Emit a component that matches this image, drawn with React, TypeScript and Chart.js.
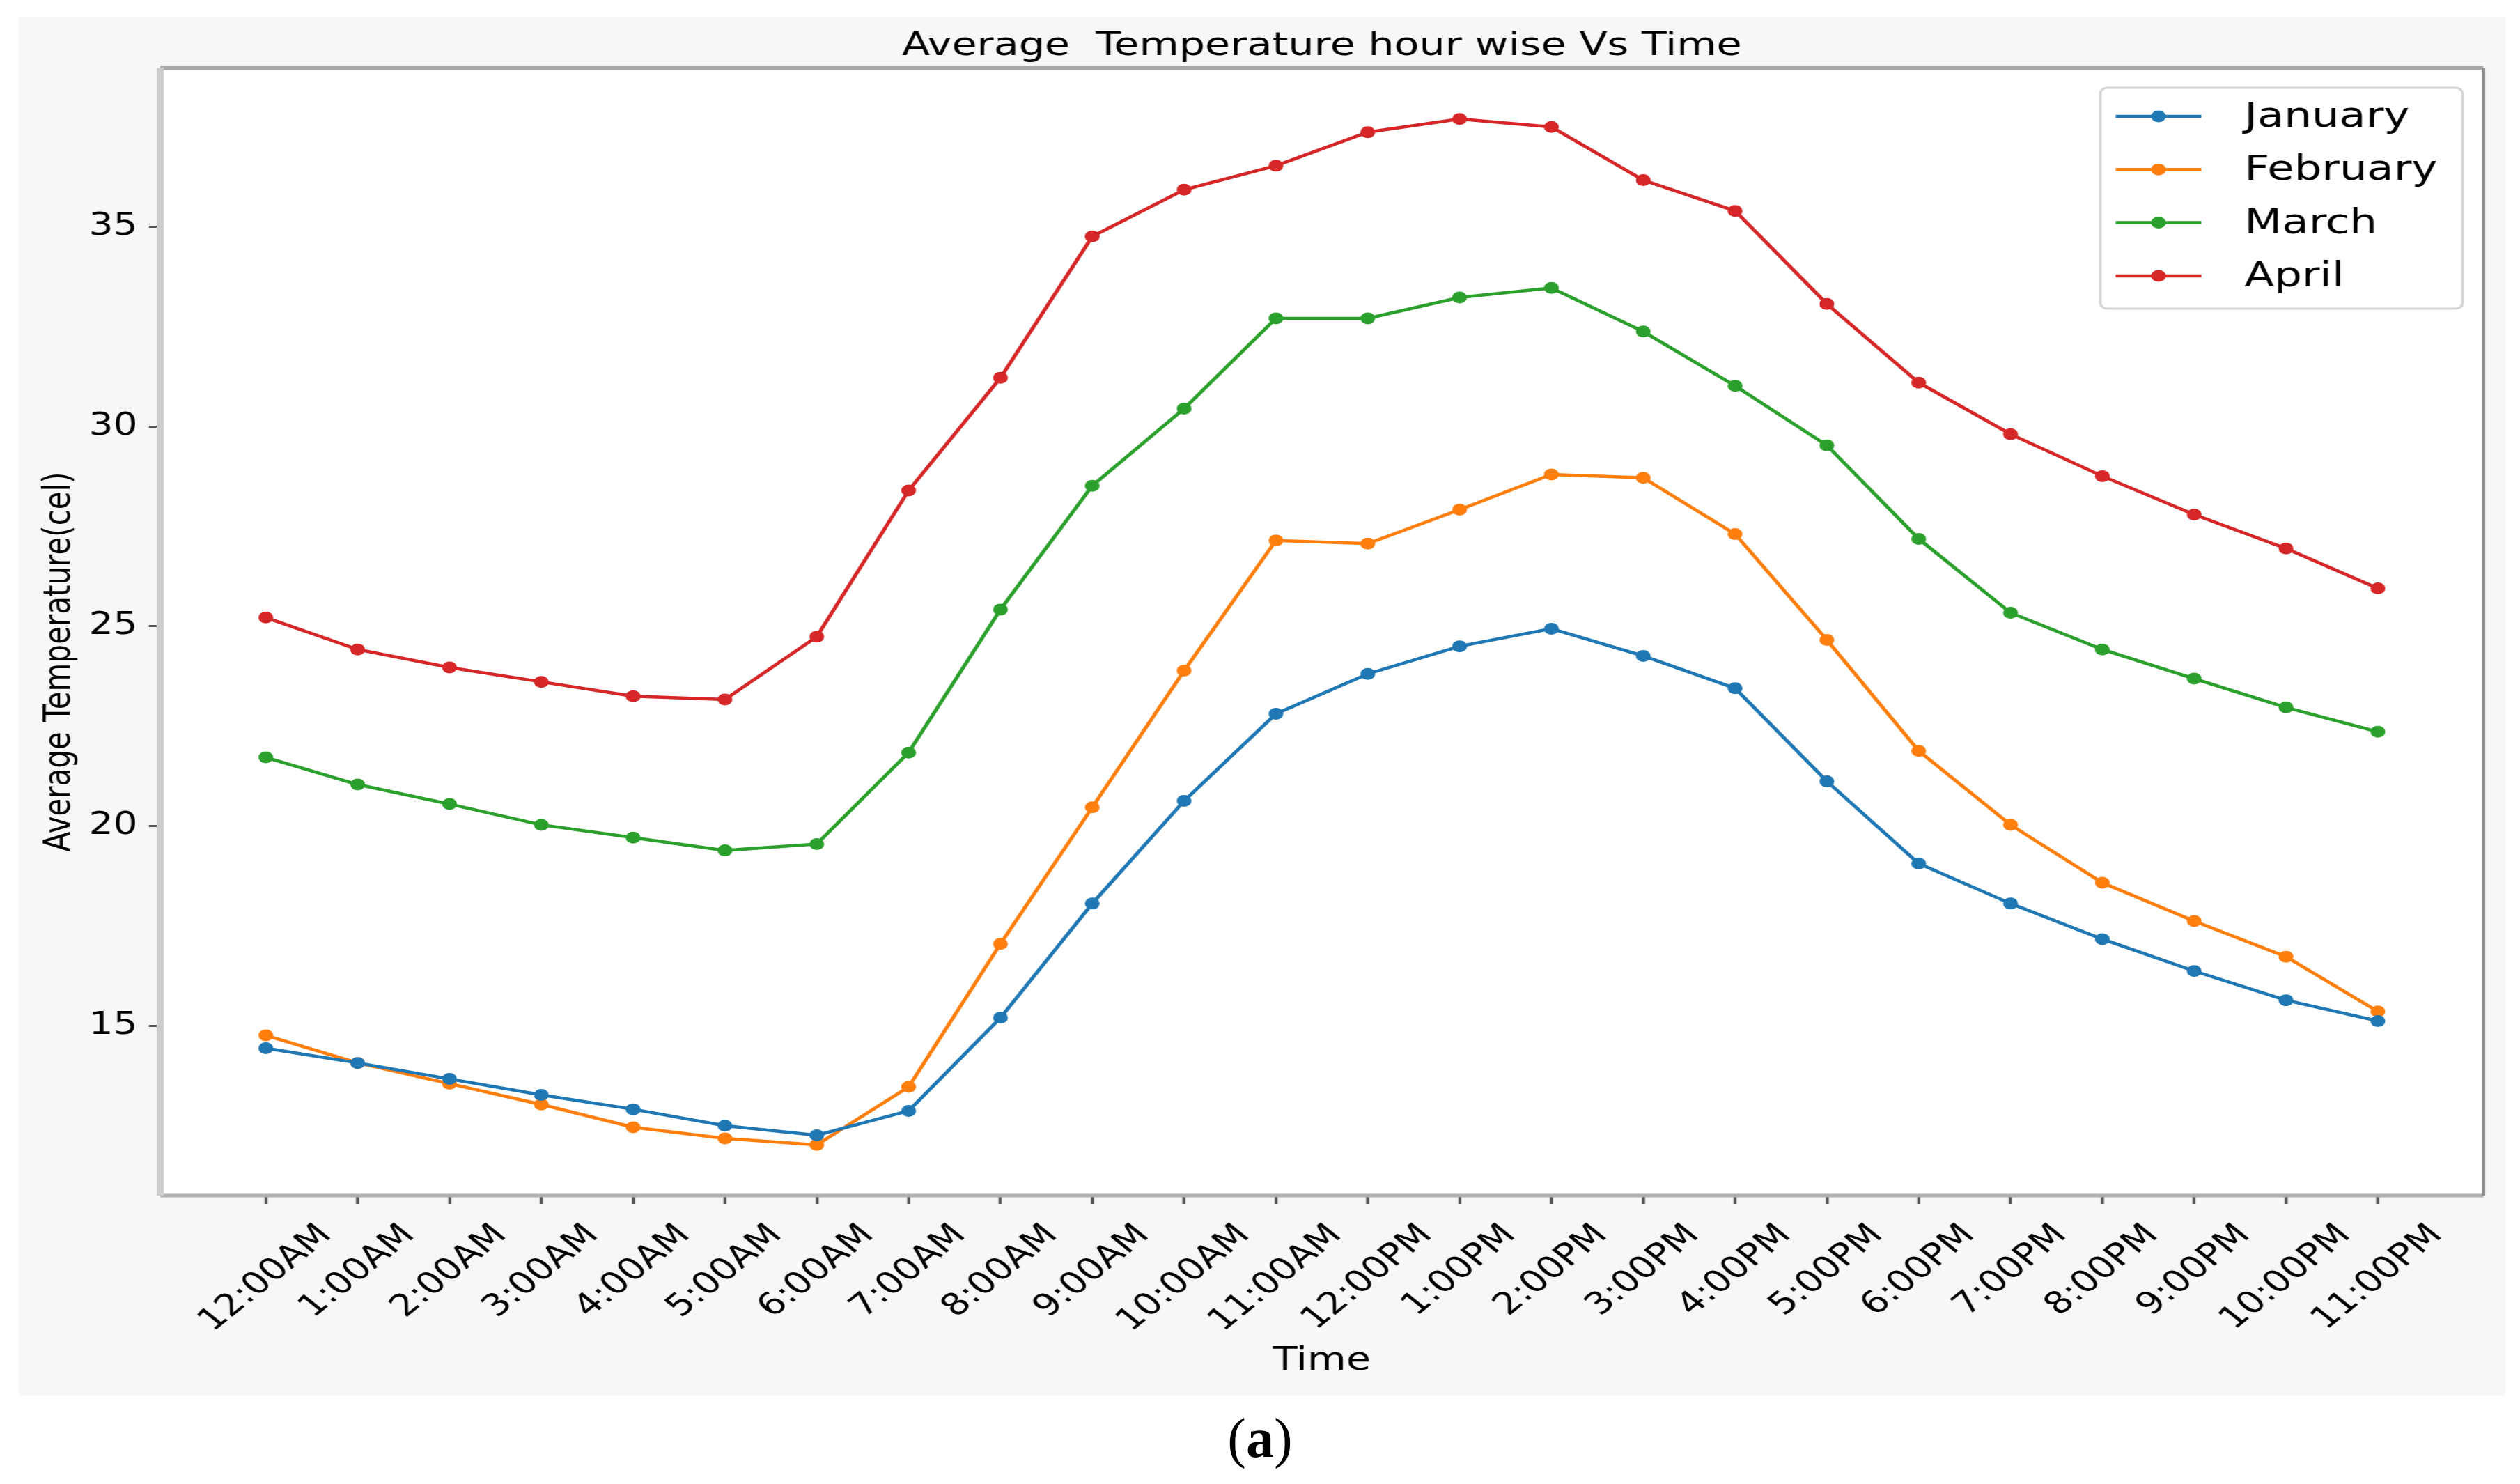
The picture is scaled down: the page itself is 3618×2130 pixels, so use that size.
import React, { useEffect, useRef } from 'react';
import { Chart, registerables } from 'chart.js';

Chart.register(...registerables);

// ---------- data ----------
const hourLabels = [
  '12:00AM', '1:00AM', '2:00AM', '3:00AM', '4:00AM', '5:00AM', '6:00AM', '7:00AM',
  '8:00AM', '9:00AM', '10:00AM', '11:00AM', '12:00PM', '1:00PM', '2:00PM', '3:00PM',
  '4:00PM', '5:00PM', '6:00PM', '7:00PM', '8:00PM', '9:00PM', '10:00PM', '11:00PM',
];
const january = [14.44, 14.07, 13.67, 13.27, 12.91, 12.5, 12.26, 12.87, 15.2, 18.06, 20.63, 22.81, 23.81, 24.5, 24.94, 24.26, 23.45, 21.12, 19.06, 18.06, 17.17, 16.37, 15.64, 15.12];
const february = [14.76, 14.07, 13.55, 13.03, 12.46, 12.18, 12.02, 13.47, 17.05, 20.47, 23.89, 27.15, 27.07, 27.92, 28.8, 28.72, 27.31, 24.66, 21.88, 20.03, 18.58, 17.62, 16.73, 15.36];
const march = [21.72, 21.04, 20.55, 20.03, 19.71, 19.39, 19.55, 21.84, 25.42, 28.52, 30.45, 32.71, 32.71, 33.23, 33.47, 32.38, 31.02, 29.53, 27.19, 25.34, 24.42, 23.69, 22.97, 22.36];
const april = [25.22, 24.42, 23.97, 23.61, 23.25, 23.17, 24.74, 28.4, 31.22, 34.76, 35.93, 36.53, 37.37, 37.7, 37.5, 36.17, 35.4, 33.07, 31.1, 29.81, 28.76, 27.8, 26.95, 25.95];
const monthNames = ['January', 'February', 'March', 'April'];
const monthSeries = [january, february, march, april];
const monthColors = ['#1f77b4', '#ff7f0e', '#2ca02c', '#d62728'];
const yTickValues = [15, 20, 25, 30, 35];
const titleText = 'Average  Temperature hour wise Vs Time';
const xTitle = 'Time';
const yTitle = 'Average Temperature(cel)';

// ---------- layout ----------
const PAGE_W = 3618;
const PAGE_H = 2130;
const STRETCH = 1.25; // reference is horizontally stretched
const BUF_W = Math.round(PAGE_W / STRETCH);
const FONT = '"DejaVu Sans", "Liberation Sans", sans-serif';
const AREA_LEFT = 230 / STRETCH;
const AREA_RIGHT = 3565 / STRETCH;
const AREA_BOTTOM = 1716;
const POINT_R = 8.5;
const LINE_W = 4.5;

const decorPlugin = {
  id: 'decor',
  beforeDraw(chart: any) {
    const { ctx, chartArea } = chart;
    ctx.save();
    ctx.fillStyle = '#ffffff';
    ctx.fillRect(chartArea.left, chartArea.top, chartArea.right - chartArea.left, chartArea.bottom - chartArea.top);
    ctx.restore();
  },
  afterDraw(chart: any) {
    const { ctx, chartArea } = chart;
    const { left, right, top, bottom } = chartArea;
    ctx.save();
    // frame
    const edge = (x1: number, y1: number, x2: number, y2: number, c: string, w: number) => {
      ctx.beginPath();
      ctx.strokeStyle = c;
      ctx.lineWidth = w;
      ctx.moveTo(x1, y1);
      ctx.lineTo(x2, y2);
      ctx.stroke();
    };
    edge(left, top, right, top, '#a8a8a8', 5);
    edge(left, bottom, right, bottom, '#b0b0b0', 5);
    edge(right, top, right, bottom, '#8c8c8c', 4);
    edge(left, top, left, bottom, '#cdcdcd', 8);

    // y axis title
    ctx.save();
    ctx.font = `42px ${FONT}`;
    ctx.fillStyle = '#000';
    ctx.textAlign = 'center';
    ctx.textBaseline = 'middle';
    ctx.translate(86 / STRETCH, 950);
    ctx.rotate(-Math.PI / 2);
    ctx.fillText(yTitle, 0, 0);
    ctx.restore();

    // x tick labels, rotated 45deg, bbox centred under the tick, top aligned
    const xs = chart.scales.x;
    const fs = 44;
    ctx.font = `${fs}px ${FONT}`;
    ctx.fillStyle = '#000';
    ctx.textAlign = 'center';
    ctx.textBaseline = 'middle';
    const h = fs * 1.164;
    const labelTop = bottom + 32;
    hourLabels.forEach((lab, i) => {
      const px = xs.getPixelForValue(i);
      const w = ctx.measureText(lab).width;
      const half = ((w + h) * Math.SQRT1_2) / 2;
      ctx.save();
      ctx.translate(px, labelTop + half);
      ctx.rotate(-Math.PI / 4);
      ctx.fillText(lab, 0, 0);
      ctx.restore();
    });

    // legend
    const bx1 = 3015 / STRETCH, bx2 = 3535 / STRETCH, by1 = 126, by2 = 443;
    ctx.beginPath();
    ctx.roundRect(bx1, by1, bx2 - bx1, by2 - by1, 8);
    ctx.fillStyle = 'rgba(255,255,255,0.85)';
    ctx.fill();
    ctx.strokeStyle = '#d4d4d4';
    ctx.lineWidth = 3;
    ctx.stroke();
    const lx1 = 3037 / STRETCH, lx2 = 3160 / STRETCH, tx = 3222 / STRETCH;
    ctx.font = `50px ${FONT}`;
    ctx.textAlign = 'left';
    ctx.textBaseline = 'middle';
    chart.data.datasets.forEach((ds: any, k: number) => {
      const y = 167 + k * 76.3;
      ctx.beginPath();
      ctx.strokeStyle = ds.borderColor;
      ctx.lineWidth = LINE_W;
      ctx.moveTo(lx1, y);
      ctx.lineTo(lx2, y);
      ctx.stroke();
      ctx.beginPath();
      ctx.fillStyle = ds.borderColor;
      ctx.arc((lx1 + lx2) / 2, y, POINT_R, 0, Math.PI * 2);
      ctx.fill();
      ctx.fillStyle = '#000';
      ctx.fillText(ds.label, tx, y + 2);
    });
    ctx.restore();
  },
};

export default function App() {
  const canvasRef = useRef<HTMLCanvasElement | null>(null);

  useEffect(() => {
    const canvas = canvasRef.current;
    if (!canvas) return;
    const chart = new Chart(canvas, {
      type: 'line',
      data: {
        datasets: monthNames.map((name, k) => ({
          label: name,
          data: monthSeries[k].map((v, i) => ({ x: i, y: v })),
          borderColor: monthColors[k],
          backgroundColor: monthColors[k],
          pointBackgroundColor: monthColors[k],
          pointBorderColor: monthColors[k],
          pointBorderWidth: 0,
          pointRadius: POINT_R,
          borderWidth: LINE_W,
          tension: 0,
          fill: false,
        })),
      },
      options: {
        animation: false,
        responsive: false,
        devicePixelRatio: 1,
        events: [],
        layout: { padding: { left: 0, right: BUF_W - AREA_RIGHT, top: 0, bottom: 0 } },
        plugins: {
          legend: { display: false },
          tooltip: { enabled: false },
          title: {
            display: true,
            text: titleText,
            fullSize: false,
            color: '#000',
            font: { family: FONT, size: 47, weight: 'normal' },
            padding: { top: 39, bottom: 2 },
          },
        },
        scales: {
          x: {
            type: 'linear',
            min: -1.15,
            max: 24.15,
            afterBuildTicks: (s: any) => {
              s.ticks = hourLabels.map((_, i) => ({ value: i }));
            },
            afterFit: (s: any) => {
              s.height = PAGE_H - AREA_BOTTOM;
            },
            ticks: { display: false },
            grid: {
              drawOnChartArea: false,
              drawTicks: true,
              tickLength: 12,
              tickWidth: 3.5,
              tickColor: '#555',
              color: '#555',
            },
            border: { display: false },
            title: {
              display: true,
              text: xTitle,
              color: '#000',
              font: { family: FONT, size: 46 },
              padding: { top: 0, bottom: 148 },
            },
          },
          y: {
            type: 'linear',
            min: 10.75,
            max: 38.98,
            afterBuildTicks: (s: any) => {
              s.ticks = yTickValues.map((v) => ({ value: v }));
            },
            afterFit: (s: any) => {
              s.width = AREA_LEFT;
            },
            ticks: {
              color: '#000',
              font: { family: FONT, size: 44 },
              padding: 13,
            },
            grid: {
              drawOnChartArea: false,
              drawTicks: true,
              tickLength: 13,
              tickWidth: 3,
              tickColor: '#555',
              color: '#555',
            },
            border: { display: false },
            title: { display: false },
          },
        },
      },
      plugins: [decorPlugin],
    } as any);
    return () => chart.destroy();
  }, []);

  return (
    <div
      style={{
        position: 'fixed',
        left: 0,
        top: 0,
        width: PAGE_W,
        height: PAGE_H,
        background: '#ffffff',
        overflow: 'hidden',
      }}
    >
      <div
        style={{
          position: 'absolute',
          left: 27,
          top: 24,
          width: 3597 - 27,
          height: 2003 - 24,
          background: '#f7f7f7',
        }}
      />
      <canvas
        ref={canvasRef}
        width={BUF_W}
        height={PAGE_H}
        style={{ position: 'absolute', left: 0, top: 0, width: PAGE_W, height: PAGE_H }}
      />
      <div
        style={{
          position: 'absolute',
          left: 0,
          top: 2024,
          width: PAGE_W,
          textAlign: 'center',
          fontFamily: '"Liberation Serif", "Times New Roman", serif',
          fontSize: 80,
          lineHeight: '80px',
          color: '#000',
        }}
      >
        (<b>a</b>)
      </div>
    </div>
  );
}
